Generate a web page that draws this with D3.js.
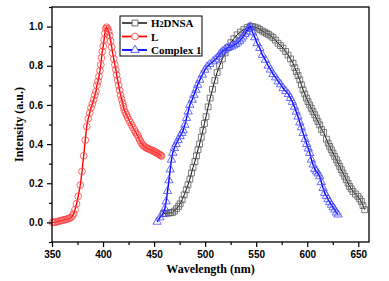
<!DOCTYPE html>
<html>
<head>
<meta charset="utf-8">
<script src="https://cdn.jsdelivr.net/npm/d3@7"></script>
<style>
  body { margin: 0; background: #fff; }
  svg { display: block; }
</style>
</head>
<body>
<div id="chart"></div>
<script>
// L (ligand) emission
const lWave = [350.5, 352, 353.5, 355, 356.5, 358, 359.5, 361, 362.5, 364, 365.5, 367, 368.5, 370, 371.2, 372.5, 374, 375.7, 377.7, 379.4,
  381, 382.6, 384, 385.5, 387, 388.2, 389.5, 390.8, 392, 393, 394, 395, 396, 397, 397.8, 398.5, 399.2, 400.2, 401, 401.8,
  402.7, 403.5, 404.5, 405.5, 406.5, 407.5, 408.5, 409.4, 410.5, 411.6, 412.5, 413.3, 414.3, 415.3, 416.2, 417.2, 418.2, 419.2, 420, 420.7,
  421.8, 423, 424, 425.3, 426.5, 428, 429.2, 430.5, 431.7, 432.9, 434, 435, 436, 437, 438.2, 439.3, 440.5, 441.6, 442.6, 443.8,
  445, 446.2, 447.5, 448.7, 449.8, 450.8, 451.8, 452.8, 453.8, 454.8, 455.7, 456.5, 457.3]
const lInt = [0.000, 0.000, 0.002, 0.004, 0.006, 0.008, 0.010, 0.012, 0.014, 0.016, 0.018, 0.021, 0.025, 0.033, 0.045, 0.065, 0.095, 0.133, 0.19, 0.26,
  0.34, 0.42, 0.49, 0.53, 0.56, 0.585, 0.605, 0.626, 0.65, 0.668, 0.70, 0.72, 0.745, 0.775, 0.805, 0.84, 0.872, 0.90, 0.932, 0.965,
  0.99, 0.997, 0.99, 0.975, 0.955, 0.925, 0.895, 0.864, 0.835, 0.805, 0.78, 0.754, 0.727, 0.70, 0.675, 0.65, 0.63, 0.61, 0.592, 0.575,
  0.562, 0.55, 0.537, 0.524, 0.511, 0.498, 0.486, 0.473, 0.462, 0.452, 0.445, 0.432, 0.42, 0.41, 0.40, 0.393, 0.388, 0.384, 0.38, 0.377,
  0.375, 0.372, 0.369, 0.366, 0.363, 0.36, 0.357, 0.354, 0.351, 0.348, 0.345, 0.342, 0.339]

// H2DNSA emission
const hWave = [459, 461.5, 464, 466, 468, 470, 472, 474, 475.5, 477.5, 479.5, 481.5, 483.2, 485, 486.6, 488.2, 490, 491.5, 493, 494.6,
  496.2, 497.8, 499.3, 500.9, 502.9, 504.9, 507.2, 509.5, 511.7, 514.2, 516.8, 519.6, 522.5, 525.2, 528.1, 531.3, 534.6, 537.9, 541.1, 544,
  546.5, 549, 551.5, 553.5, 556, 558, 560, 562, 564.3, 566.5, 568.8, 571.4, 573.8, 576.3, 578.8, 581.2, 583.6, 586.1, 587.8, 589.4,
  591, 592.7, 594.3, 595.9, 597.6, 599.2, 600.8, 602.4, 604, 605.6, 607.3, 608.9, 610.5, 612.2, 614, 616.1, 618.8, 620.5, 622, 623.6,
  625.2, 626.9, 628.6, 630.2, 631.8, 633.4, 635, 636.7, 638.3, 640, 641.5, 643.2, 644.8, 647.2, 649.7, 651.3, 653, 654.6, 656.3]
const hInt = [0.045, 0.046, 0.048, 0.049, 0.051, 0.058, 0.07, 0.082, 0.095, 0.116, 0.141, 0.167, 0.192, 0.221, 0.252, 0.281, 0.311, 0.34, 0.371, 0.40,
  0.435, 0.47, 0.505, 0.54, 0.59, 0.635, 0.68, 0.725, 0.765, 0.80, 0.835, 0.866, 0.893, 0.918, 0.938, 0.958, 0.972, 0.985, 0.995, 1.0,
  1.0, 0.997, 0.992, 0.985, 0.977, 0.972, 0.966, 0.96, 0.952, 0.944, 0.931, 0.915, 0.903, 0.89, 0.873, 0.855, 0.835, 0.813, 0.79, 0.77,
  0.75, 0.728, 0.703, 0.677, 0.656, 0.635, 0.617, 0.6, 0.583, 0.566, 0.55, 0.533, 0.515, 0.498, 0.475, 0.46, 0.425, 0.405, 0.388, 0.371,
  0.354, 0.337, 0.32, 0.303, 0.286, 0.269, 0.252, 0.235, 0.218, 0.20, 0.184, 0.171, 0.158, 0.145, 0.133, 0.12, 0.107, 0.086, 0.065]

// Complex 1 emission
const cWave = [453, 455.7, 458.5, 460.5, 461.8, 463.2, 464.5, 465.8, 467, 468.3, 469.8, 471.5, 473.5, 475.5, 477.2, 478.5, 480.1, 481.8, 483.4, 485,
  487.3, 489, 491, 492.6, 494.8, 497.3, 499.7, 502, 504.6, 507.8, 510, 512.5, 514.4, 516, 517.6, 519.5, 521.5, 523.6, 525.8, 528,
  530, 532, 533.9, 535.6, 537.2, 539, 540.5, 542, 543.2, 544.5, 546.5, 548.6, 550.9, 553.5, 556.1, 559, 561.7, 564, 566.5, 569,
  571.4, 574, 576.4, 579, 581.5, 583.6, 585.5, 587.5, 589.2, 591, 592.7, 594.3, 596, 598, 599.5, 601, 602.5, 604.1, 605.7, 607.4,
  609, 610.6, 612.2, 613.9, 615.5, 617.1, 618.8, 620.4, 622, 623.7, 625.3, 626.9, 628.6, 630.2]
const cInt = [0.003, 0.025, 0.042, 0.07, 0.107, 0.16, 0.215, 0.27, 0.32, 0.355, 0.38, 0.40, 0.42, 0.44, 0.456, 0.47, 0.498, 0.533, 0.566, 0.60,
  0.626, 0.651, 0.677, 0.702, 0.728, 0.754, 0.779, 0.796, 0.808, 0.822, 0.832, 0.845, 0.859, 0.868, 0.876, 0.883, 0.89, 0.894, 0.898, 0.904,
  0.91, 0.918, 0.927, 0.938, 0.949, 0.962, 0.974, 0.987, 0.997, 1.0, 0.97, 0.945, 0.915, 0.89, 0.855, 0.83, 0.80, 0.78, 0.757, 0.74,
  0.72, 0.705, 0.685, 0.67, 0.655, 0.635, 0.615, 0.59, 0.565, 0.54, 0.51, 0.485, 0.456, 0.425, 0.40, 0.377, 0.354, 0.32, 0.295, 0.272,
  0.26, 0.25, 0.235, 0.205, 0.175, 0.15, 0.135, 0.118, 0.103, 0.09, 0.077, 0.065, 0.05, 0.04]

const xTicks = [350, 400, 450, 500, 550, 600, 650]
const yTicks = [0.0, 0.2, 0.4, 0.6, 0.8, 1.0]
const legendNames = ['H2DNSA', 'L', 'Complex 1']

const W = 389
const H = 281
const m = { l: 52, r: 20, t: 7, b: 39 }

const svg = d3.select('#chart').append('svg')
  .attr('width', W).attr('height', H)

svg.append('rect').attr('width', W).attr('height', H).attr('fill', '#fff')

const x = d3.scaleLinear().domain([350, 660.5]).range([m.l, W - m.r])
const y = d3.scaleLinear().domain([-0.1, 1.1]).range([H - m.b, m.t])

const sansBold = '"Liberation Sans", Arial, sans-serif'
const serif = '"Liberation Serif", "Times New Roman", serif'

// series definitions
const series = [
  { name: legendNames[0], wave: hWave, val: hInt, color: '#000', mark: '#5a5a5a', lw: 1, sym: d3.symbolSquare, size: 34 },
  { name: legendNames[1], wave: lWave, val: lInt, color: '#ff0000', mark: '#ff4444', lw: 1.4, sym: d3.symbolCircle, size: 36 },
  { name: legendNames[2], wave: cWave, val: cInt, color: '#0000ff', mark: '#4848ff', lw: 1.4, sym: d3.symbolTriangle, size: 30 }
]

const line = d3.line().x(d => x(d[0])).y(d => y(d[1]))

series.forEach(s => {
  const pts = s.wave.map((w, i) => [w, s.val[i]])
  const g = svg.append('g')
  g.append('path').datum(pts)
    .attr('d', line)
    .attr('fill', 'none')
    .attr('stroke', s.color)
    .attr('stroke-width', s.lw)
  g.selectAll('path.mk').data(pts).enter().append('path')
    .attr('class', 'mk')
    .attr('d', d3.symbol().type(s.sym).size(s.size))
    .attr('transform', d => 'translate(' + x(d[0]) + ',' + y(d[1]) + ')')
    .attr('fill', 'none')
    .attr('stroke', s.mark)
    .attr('stroke-width', 0.8)
})

// axes
const xAxis = svg.append('g')
  .attr('transform', 'translate(0,' + (H - m.b) + ')')
  .call(d3.axisBottom(x).tickValues(xTicks).tickSize(5).tickPadding(4).tickFormat(d3.format('d')))
xAxis.append('g').call(d3.axisBottom(x)
  .tickValues(xTicks.slice(0, -1).map(t => t + 25)).tickSize(3).tickFormat(''))

const yAxis = svg.append('g')
  .attr('transform', 'translate(' + m.l + ',0)')
  .call(d3.axisLeft(y).tickValues(yTicks).tickSize(5).tickPadding(4).tickFormat(d3.format('.1f')))
yAxis.append('g').call(d3.axisLeft(y)
  .tickValues(yTicks.map(t => t + 0.1).concat([-0.1])).tickSize(3).tickFormat(''))

svg.selectAll('.domain').remove()
svg.selectAll('.tick line').attr('stroke', '#000').attr('stroke-width', 1.2)
svg.selectAll('.tick text')
  .attr('fill', '#000')
  .style('font-family', sansBold)
  .style('font-weight', 'bold')
  .style('font-size', '10px')

// frame
svg.append('rect')
  .attr('x', m.l).attr('y', m.t)
  .attr('width', W - m.r - m.l).attr('height', H - m.b - m.t)
  .attr('fill', 'none').attr('stroke', '#000').attr('stroke-width', 1.3)

// axis titles
svg.append('text')
  .attr('x', (m.l + W - m.r) / 2).attr('y', 273)
  .attr('text-anchor', 'middle')
  .style('font-family', serif).style('font-weight', 'bold').style('font-size', '12px')
  .text('Wavelength (nm)')

svg.append('text')
  .attr('transform', 'translate(23,' + ((m.t + H - m.b) / 2) + ') rotate(-90)')
  .attr('text-anchor', 'middle')
  .style('font-family', serif).style('font-weight', 'bold').style('font-size', '12px')
  .text('Intensity (a.u.)')

// legend
const leg = svg.append('g').attr('transform', 'translate(120,16)')
leg.append('rect')
  .attr('width', 82).attr('height', 40)
  .attr('fill', '#fff').attr('stroke', '#000').attr('stroke-width', 1)

series.forEach((s, i) => {
  const ly = 7 + i * 13.5
  leg.append('line')
    .attr('x1', 2).attr('x2', 27).attr('y1', ly).attr('y2', ly)
    .attr('stroke', s.color).attr('stroke-width', s.lw + 0.4)
  leg.append('path')
    .attr('d', d3.symbol().type(s.sym).size(s.size)())
    .attr('transform', 'translate(15,' + ly + ')')
    .attr('fill', '#fff').attr('stroke', s.mark).attr('stroke-width', 0.9)
  const t = leg.append('text')
    .attr('x', 31).attr('y', ly + 4)
    .style('font-family', serif).style('font-weight', 'bold').style('font-size', '11px')
  if (s.name === 'H2DNSA') {
    t.append('tspan').text('H')
    t.append('tspan').text('2').style('font-size', '8px')
    t.append('tspan').text('DNSA')
  } else {
    t.text(s.name)
  }
})
</script>
</body>
</html>
